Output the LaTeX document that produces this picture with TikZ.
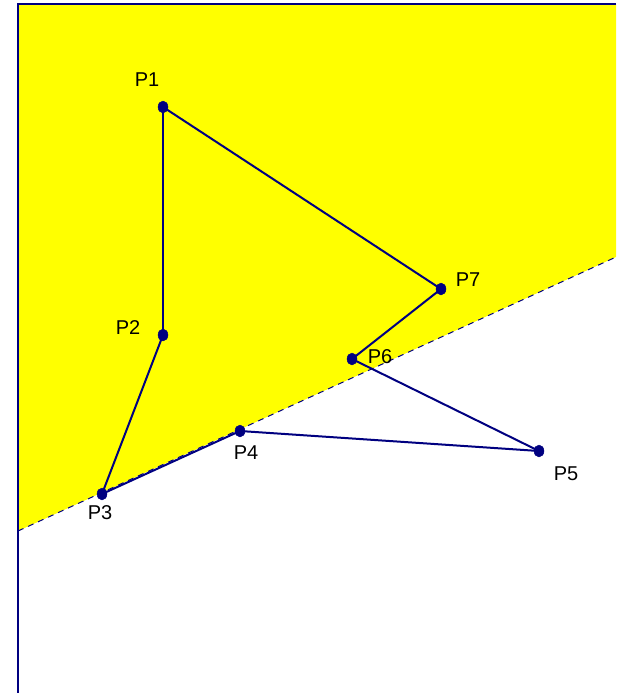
\documentclass[tikz,border=0pt]{standalone}
\usepackage{fontspec}
\setmainfont{Liberation Sans}
\usepackage{tikz}
\usetikzlibrary{shapes.geometric, calc}
\definecolor{navyline}{RGB}{0,0,128}
\definecolor{halfyellow}{RGB}{255,255,0}

\begin{document}
\begin{tikzpicture}[
		x=1pt, y=-1pt,
		every node/.style={font=\fontsize{20}{24}\selectfont},
		vertex/.style={ellipse, draw=navyline, fill=navyline, inner sep=0pt, minimum width=10pt, minimum height=12pt},
		ptlabel/.style={inner sep=0pt, text=black},
		edgestyle/.style={navyline, line width=2pt},
		frame/.style={navyline, line width=2pt},
		cutline/.style={navyline, line width=1pt, dash pattern=on 6pt off 5pt}
	]
	\useasboundingbox (0,0) rectangle (616,693);

	% Half plane and its border
	\coordinate (cutleft) at (18,531);
	\coordinate (cutright) at (616,257);
	\fill[halfyellow] (18,4) -- (616,4) -- (cutright) -- (cutleft) -- cycle;
	\draw[frame] (18,693) -- (18,4) -- (616,4);
	\draw[cutline] (cutleft) -- (cutright);

	% Polygon vertices
	\node[vertex] (p1) at (163,107) {};
	\node[vertex] (p2) at (163,335) {};
	\node[vertex] (p3) at (102,494) {};
	\node[vertex] (p4) at (240,431) {};
	\node[vertex] (p5) at (539,451) {};
	\node[vertex] (p6) at (352,359) {};
	\node[vertex] (p7) at (441,289) {};

	% Polygon edges
	\draw[edgestyle] (p1.center) -- (p2.center);
	\draw[edgestyle] (p2.center) -- (p3.center);
	\draw[edgestyle] (p3.center) -- (p4.center);
	\draw[edgestyle] (p4.center) -- (p5.center);
	\draw[edgestyle] (p5.center) -- (p6.center);
	\draw[edgestyle] (p6.center) -- (p7.center);
	\draw[edgestyle] (p7.center) -- (p1.center);

	% Labels
	\node[ptlabel] (l1) at (147,80) {P1};
	\node[ptlabel] (l2) at (128,328) {P2};
	\node[ptlabel] (l3) at (100,513) {P3};
	\node[ptlabel] (l4) at (246,453) {P4};
	\node[ptlabel] (l5) at (566,474) {P5};
	\node[ptlabel] (l6) at (380,357) {P6};
	\node[ptlabel] (l7) at (468,280) {P7};
\end{tikzpicture}
\end{document}
